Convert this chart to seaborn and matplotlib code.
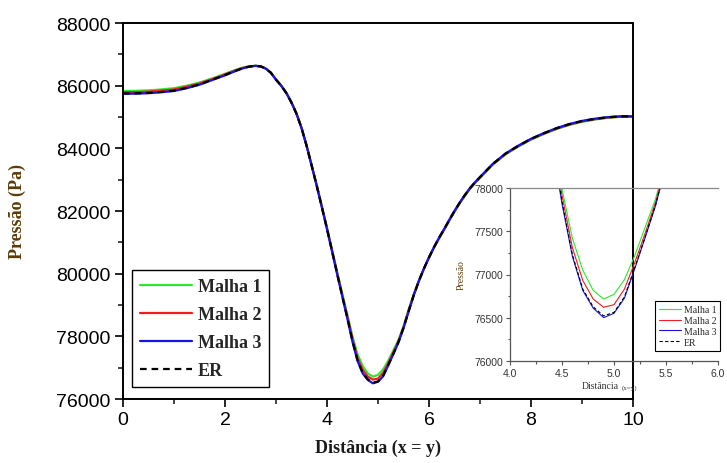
import numpy as np
import pandas as pd
import matplotlib
matplotlib.use("Agg")
import matplotlib.pyplot as plt
from matplotlib.ticker import MultipleLocator, FormatStrFormatter
import seaborn as sns

# distance along the diagonal (x = y)
dist = [0.0, 0.25, 0.5, 0.75, 1.0, 1.25, 1.5, 1.75, 2.0,
        2.2, 2.3, 2.4, 2.5, 2.6, 2.7, 2.8, 2.9, 3.0, 3.1, 3.2, 3.3, 3.4, 3.5, 3.6, 3.7, 3.8, 3.9,
        4.0, 4.1, 4.2, 4.3, 4.4, 4.5, 4.6, 4.7, 4.8, 4.9, 5.0, 5.1, 5.2, 5.3, 5.4, 5.5, 5.6, 5.7,
        5.8, 5.9, 6.0, 6.1, 6.2, 6.3, 6.4, 6.5, 6.6, 6.7, 6.8, 6.9, 7.0,
        7.25, 7.5, 7.75, 8.0, 8.25, 8.5, 8.75, 9.0, 9.25, 9.5, 9.75, 10.0]

malha1 = [85830, 85835, 85850, 85880, 85920, 86000, 86100, 86230, 86380,
          86500, 86555, 86595, 86622, 86635, 86618, 86545, 86415, 86200, 86010, 85780, 85480, 85120,
          84660, 84090, 83460, 82820, 82150,
          81470, 80760, 80050, 79350, 78680, 77990, 77420, 77050, 76815, 76715, 76770, 76940, 77220,
          77550, 77880, 78320, 78850, 79335,
          79770, 80160, 80505, 80830, 81128, 81405, 81695, 81975, 82235, 82475, 82695, 82885, 83055,
          83475, 83805, 84055, 84275, 84455, 84615, 84745, 84845, 84918, 84972, 85005, 85010]
malha2 = [85790, 85795, 85810, 85840, 85880, 85965, 86070, 86210, 86360,
          86485, 86543, 86588, 86618, 86633, 86616, 86545, 86412, 86195, 86005, 85775, 85475, 85115,
          84655, 84085, 83450, 82810, 82130,
          81445, 80730, 80015, 79310, 78630, 77920, 77310, 76930, 76715, 76620, 76650, 76830, 77140,
          77480, 77840, 78290, 78820, 79320,
          79765, 80160, 80515, 80843, 81142, 81420, 81710, 81990, 82250, 82490, 82710, 82900, 83070,
          83490, 83820, 84070, 84290, 84470, 84630, 84760, 84860, 84930, 84982, 85012, 85015]
malha3 = [85740, 85745, 85760, 85790, 85830, 85920, 86030, 86180, 86330,
          86462, 86525, 86577, 86612, 86632, 86615, 86545, 86410, 86190, 86000, 85770, 85470, 85110,
          84650, 84080, 83440, 82790, 82110,
          81420, 80700, 79975, 79265, 78560, 77820, 77210, 76815, 76610, 76500, 76550, 76725, 77070,
          77430, 77800, 78260, 78790, 79305,
          79760, 80160, 80525, 80855, 81155, 81435, 81725, 82005, 82265, 82505, 82725, 82915, 83085,
          83505, 83835, 84085, 84305, 84485, 84645, 84775, 84875, 84945, 84995, 85022, 85020]
er = [85750, 85755, 85770, 85800, 85840, 85930, 86040, 86190, 86340,
      86470, 86530, 86580, 86615, 86632, 86615, 86545, 86410, 86190, 86000, 85770, 85470, 85110,
      84650, 84080, 83440, 82800, 82120,
      81430, 80710, 79990, 79280, 78580, 77850, 77230, 76830, 76625, 76520, 76560, 76740, 77080,
      77440, 77810, 78270, 78800, 79310,
      79760, 80160, 80520, 80850, 81150, 81430, 81720, 82000, 82260, 82500, 82720, 82910, 83080,
      83500, 83830, 84080, 84300, 84480, 84640, 84770, 84870, 84940, 84990, 85020, 85020]

series = {"Malha 1": malha1, "Malha 2": malha2, "Malha 3": malha3, "ER": er}
colors = {"Malha 1": "#2ee82e", "Malha 2": "#f21c1c", "Malha 3": "#1414e6", "ER": "black"}

main_xticks = [0, 2, 4, 6, 8, 10]
main_yticks = [76000, 78000, 80000, 82000, 84000, 86000, 88000]
inset_xticks = [4.0, 4.5, 5.0, 5.5, 6.0]
inset_yticks = [76000, 76500, 77000, 77500, 78000]

df = pd.DataFrame({"dist": dist, **series})
long_df = df.melt(id_vars="dist", var_name="serie", value_name="pressao")

sns.set_style("ticks")
plt.rcParams['font.family'] = ['Liberation Sans', 'DejaVu Sans']
serif = ["Liberation Serif", "DejaVu Serif"]

W, H = 727, 464
fig = plt.figure(figsize=(W / 100, H / 100), dpi=100)

# main axes
ax = fig.add_axes([123 / W, 1 - 400 / H, (633 - 123) / W, (400 - 24) / H])
for name in series:
    sub = long_df[long_df["serie"] == name]
    ls = (0, (3, 2.2)) if name == "ER" else "-"
    sns.lineplot(data=sub, x="dist", y="pressao", ax=ax, color=colors[name],
                 lw=1.6, linestyle=ls, label=name)

ax.set_xlim(0, 10)
ax.set_ylim(76000, 88000)
ax.set_xticks(main_xticks)
ax.set_yticks(main_yticks)
ax.xaxis.set_minor_locator(MultipleLocator(1))
ax.yaxis.set_minor_locator(MultipleLocator(1000))
ax.tick_params(which="major", direction="out", length=6, width=1.2, labelsize=14,
               top=False, right=False, colors="black", pad=3)
ax.tick_params(which="minor", direction="out", length=3.5, width=1.2, top=False, right=False)
for sp in ax.spines.values():
    sp.set_linewidth(1.4)
    sp.set_color("black")

ax.set_xlabel("Distância (x = y)", fontsize=13, fontweight="bold", family=serif, color="#1a1a1a")
ax.xaxis.set_label_coords(0.5, -0.105)
ax.set_ylabel("Pressão (Pa)", fontsize=13, fontweight="bold", family=serif, color="#5a3c08")
ax.yaxis.set_label_coords(-0.19, 0.5)

leg = ax.legend(loc="lower left", bbox_to_anchor=(0.017, 0.032), borderaxespad=0,
                fancybox=False, framealpha=1, edgecolor="black", handlelength=2.9,
                handletextpad=0.3, labelspacing=0.6, borderpad=0.45,
                prop={"family": serif, "weight": "bold", "size": 13})
leg.get_frame().set_linewidth(1.0)

# inset (zoom on the minimum)
axi = fig.add_axes([510 / W, 1 - 361.7 / H, 208 / W, 172.4 / H])
axi.patch.set_alpha(0)
for name in series:
    sub = long_df[long_df["serie"] == name]
    ls = (0, (3, 2)) if name == "ER" else "-"
    sns.lineplot(data=sub, x="dist", y="pressao", ax=axi, color=colors[name],
                 lw=0.8, linestyle=ls, label=name)
axi.set_xlim(4, 6)
axi.set_ylim(76000, 78000)
axi.set_xticks(inset_xticks)
axi.set_yticks(inset_yticks)
axi.xaxis.set_major_formatter(FormatStrFormatter("%.1f"))
axi.xaxis.set_minor_locator(MultipleLocator(0.25))
axi.yaxis.set_minor_locator(MultipleLocator(250))
axi.tick_params(which="major", direction="out", length=3, width=0.8, labelsize=7.5,
                labelcolor="#333333", color="#555555", pad=2)
axi.tick_params(which="minor", direction="out", length=1.8, width=0.8, color="#555555")
axi.spines["right"].set_visible(False)
axi.spines["top"].set_color("#888888")
axi.spines["left"].set_color("#555555")
axi.spines["bottom"].set_color("#555555")
for sp in axi.spines.values():
    sp.set_linewidth(0.9)
axi.set_xlabel("")
axi.set_ylabel("Pressão", fontsize=7, family=serif, color="#5a3c08")
axi.yaxis.set_label_coords(-0.215, 0.5)
fig.text(600 / W, 1 - 387 / H, "Distância", fontsize=7, ha="center", va="center",
         family=serif, color="#333333")
fig.text(630 / W, 1 - 388 / H, "(x=y)", fontsize=5, ha="center", va="center",
         family=serif, color="#333333")

legi = axi.legend(loc="lower right", bbox_to_anchor=(1.01, 0.058), borderaxespad=0,
                  fancybox=False, framealpha=1, edgecolor="black", handlelength=2.2,
                  handletextpad=0.3, labelspacing=0.2, borderpad=0.4,
                  prop={"family": serif, "size": 7})
legi.get_frame().set_linewidth(0.8)

fig.savefig("out.png", dpi=100)
